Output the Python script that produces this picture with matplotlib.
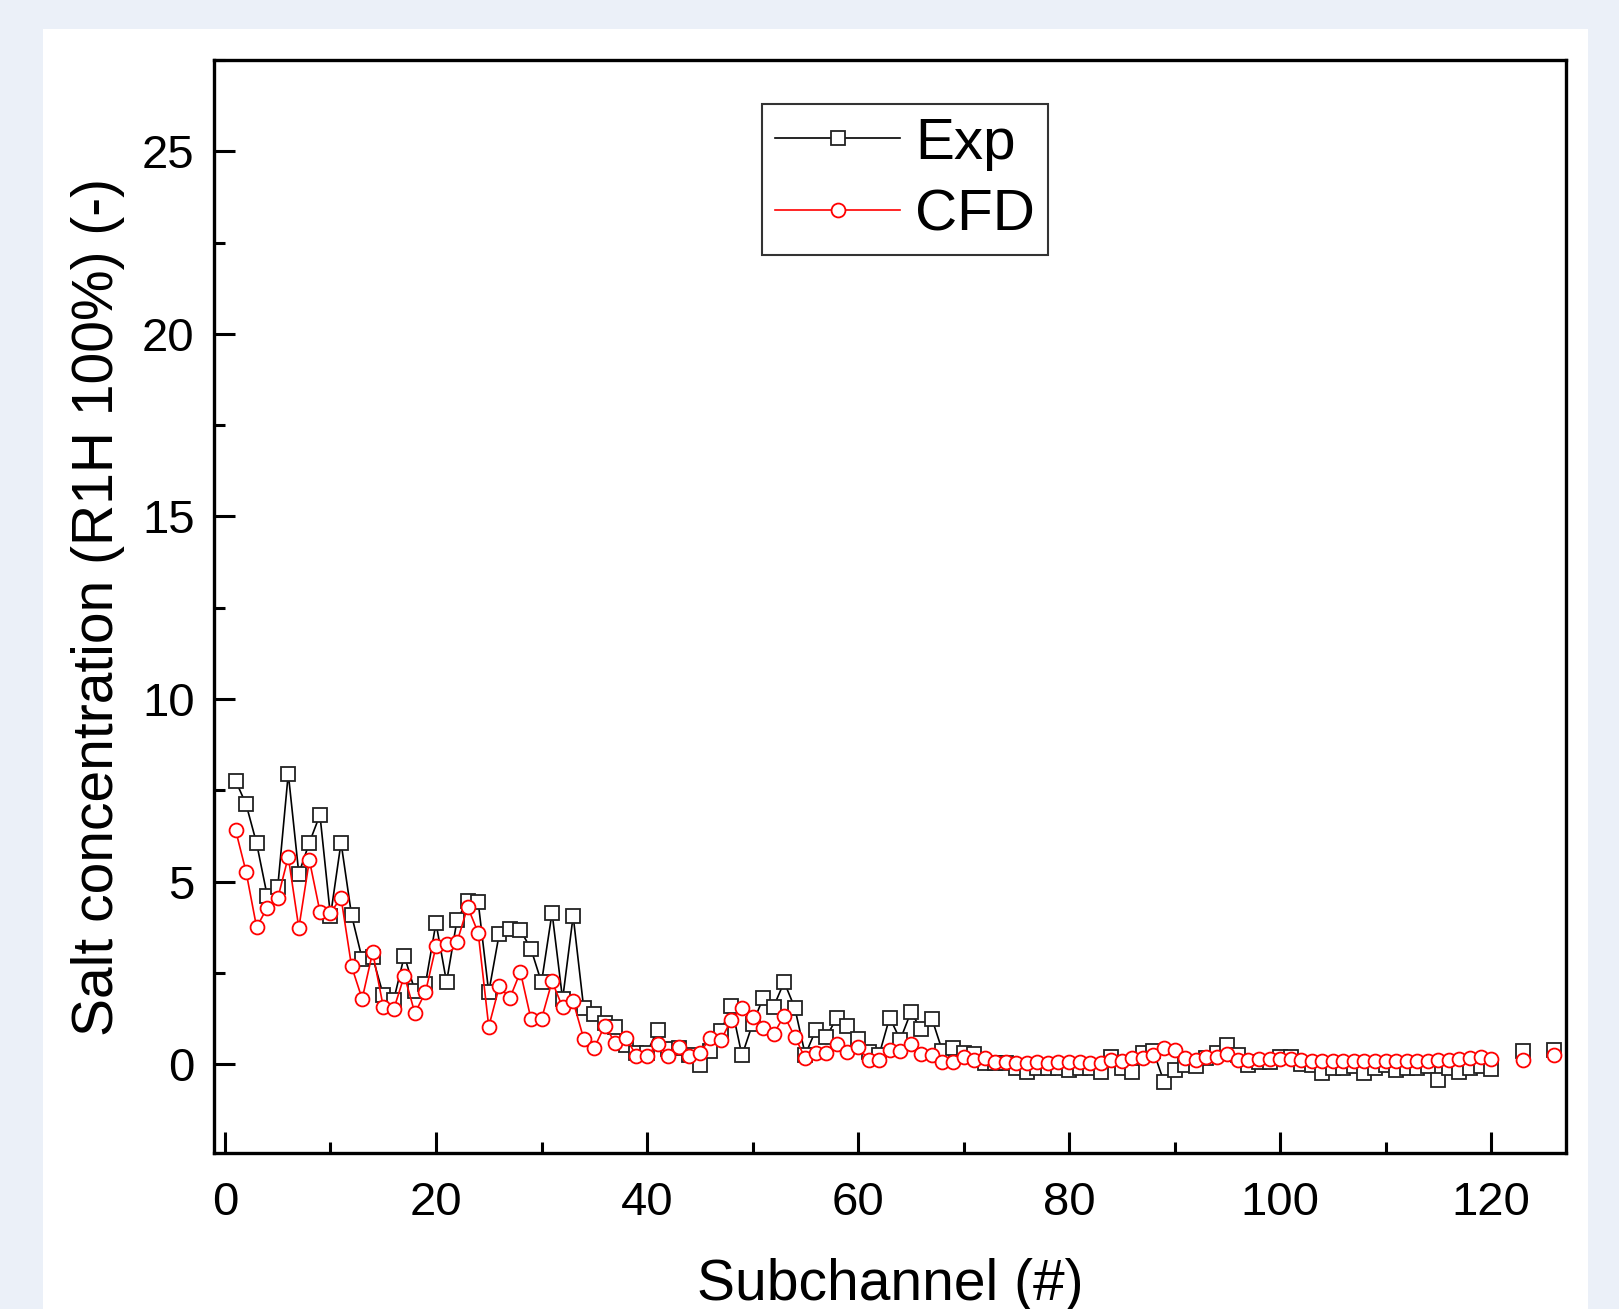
import matplotlib
matplotlib.use("Agg")
import matplotlib.pyplot as plt
from matplotlib.patches import Rectangle
from matplotlib.ticker import MultipleLocator

plt.rcParams['font.family'] = ['Liberation Sans', 'DejaVu Sans']

subchannel = list(range(1, 121)) + [123, 126]

exp_vals = [7.77, 7.12, 6.05, 4.62, 4.85, 7.96, 5.22, 6.07, 6.83, 4.06,
            6.07, 4.08, 2.89, 2.93, 1.90, 1.77, 2.97, 2.01, 2.20, 3.87,
            2.25, 3.96, 4.47, 4.44, 1.97, 3.58, 3.71, 3.67, 3.16, 2.24,
            4.15, 1.78, 4.06, 1.54, 1.38, 1.13, 1.03, 0.53, 0.32, 0.32,
            0.94, 0.41, 0.44, 0.26, -0.02, 0.37, 0.90, 1.60, 0.24, 1.10,
            1.81, 1.58, 2.25, 1.55, 0.26, 0.94, 0.75, 1.28, 1.05, 0.69,
            0.34, 0.26, 1.28, 0.67, 1.42, 0.96, 1.25, 0.36, 0.44, 0.30,
            0.28, 0.03, 0.03, 0.03, -0.11, -0.20, -0.11, -0.11, -0.11, -0.16,
            -0.11, -0.11, -0.20, 0.20, -0.11, -0.20, 0.30, 0.35, -0.48, -0.15,
            -0.02, -0.06, 0.17, 0.30, 0.53, 0.26, -0.02, 0.07, 0.07, 0.21,
            0.19, 0.02, -0.02, -0.25, -0.11, -0.11, -0.05, -0.25, -0.11, -0.02,
            -0.15, -0.11, -0.11, -0.06, -0.43, -0.11, -0.20, -0.11, -0.06, -0.14,
            0.35, 0.38]

cfd_vals = [6.42, 5.27, 3.75, 4.29, 4.54, 5.68, 3.73, 5.59, 4.18, 4.15,
            4.56, 2.68, 1.79, 3.07, 1.58, 1.51, 2.43, 1.40, 1.97, 3.23,
            3.28, 3.35, 4.31, 3.60, 1.03, 2.13, 1.81, 2.53, 1.24, 1.24,
            2.27, 1.56, 1.72, 0.70, 0.45, 1.06, 0.58, 0.73, 0.23, 0.23,
            0.55, 0.23, 0.48, 0.23, 0.32, 0.71, 0.66, 1.22, 1.54, 1.29,
            0.99, 0.83, 1.33, 0.76, 0.16, 0.30, 0.32, 0.56, 0.33, 0.47,
            0.12, 0.12, 0.39, 0.35, 0.56, 0.28, 0.26, 0.06, 0.06, 0.21,
            0.13, 0.16, 0.06, 0.06, 0.03, 0.03, 0.05, 0.03, 0.07, 0.05,
            0.07, 0.03, 0.03, 0.12, 0.10, 0.16, 0.16, 0.25, 0.44, 0.39,
            0.16, 0.12, 0.19, 0.21, 0.28, 0.12, 0.12, 0.14, 0.14, 0.15,
            0.14, 0.12, 0.10, 0.10, 0.10, 0.08, 0.08, 0.10, 0.10, 0.10,
            0.10, 0.10, 0.10, 0.10, 0.12, 0.12, 0.14, 0.17, 0.19, 0.14,
            0.11, 0.25]

W, H = 1619, 1309
fig = plt.figure(figsize=(W / 100, H / 100), dpi=100)
fig.patch.set_facecolor('#EBF0F8')
bg = Rectangle((43 / W, 0), (1588 - 43) / W, 1 - 29 / H,
               transform=fig.transFigure, facecolor='white',
               edgecolor='none', zorder=-10)
fig.patches.append(bg)

ax = fig.add_axes([214 / W, 1 - 1153 / H, (1566 - 214) / W, (1153 - 60) / H])
ax.set_zorder(5)

# split at gaps so the line does not connect 120 -> 123 -> 126
segments = [(0, 120), (120, 121), (121, 122)]
for i, (a, b) in enumerate(segments):
    ax.plot(subchannel[a:b], exp_vals[a:b], color='black', lw=1.2,
            marker='s', ms=9.5, mfc='white', mec='#222222', mew=1.3,
            label='Exp' if i == 0 else None, zorder=3)
for i, (a, b) in enumerate(segments):
    ax.plot(subchannel[a:b], cfd_vals[a:b], color='#FF0000', lw=1.2,
            marker='o', ms=10, mfc='white', mec='#FF0000', mew=1.3,
            label='CFD' if i == 0 else None, zorder=4)

ax.set_xlim(-1.04, 127.1)
ax.set_ylim(-2.43, 27.5)
ax.xaxis.set_major_locator(MultipleLocator(20))
ax.xaxis.set_minor_locator(MultipleLocator(10))
ax.yaxis.set_major_locator(MultipleLocator(5))
ax.yaxis.set_minor_locator(MultipleLocator(2.5))
ax.tick_params(which='major', direction='in', length=15, width=2.2,
               labelsize=34, top=False, right=False)
ax.tick_params(axis='x', which='major', pad=20)
ax.tick_params(axis='y', which='major', pad=14)
ax.tick_params(which='minor', direction='in', length=8, width=2.2,
               top=False, right=False)
for s in ax.spines.values():
    s.set_linewidth(2.4)

ax.set_xlabel('Subchannel (#)', fontsize=41, labelpad=24)
ax.set_ylabel('Salt concentration (R1H 100%) (-)', fontsize=41, labelpad=12)

leg = ax.legend(loc='upper center', bbox_to_anchor=(0.511, 0.96),
                fontsize=42, frameon=True, fancybox=False, edgecolor='black',
                handlelength=2.15, handletextpad=0.25, borderpad=0.22,
                labelspacing=0.3, borderaxespad=0.0)
leg.get_frame().set_linewidth(1.5)

fig.savefig('out.png', dpi=100, facecolor=fig.get_facecolor())
